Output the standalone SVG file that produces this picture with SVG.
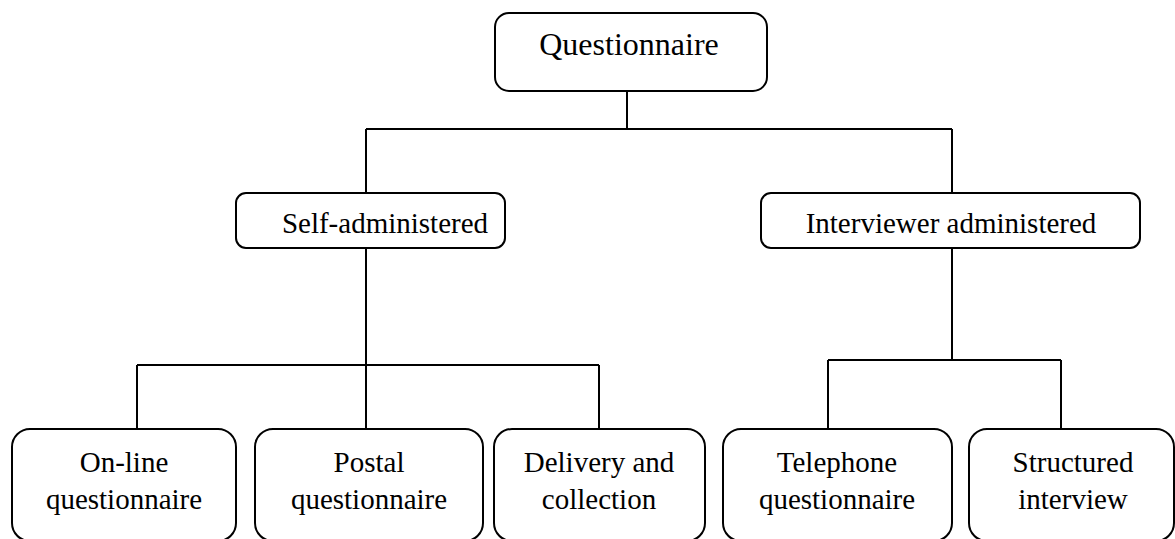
<svg xmlns="http://www.w3.org/2000/svg" width="1175" height="539" viewBox="0 0 1175 539">
  <style>
    .box { fill: #ffffff; stroke: #000000; stroke-width: 2; }
    .wire { fill: none; stroke: #000000; stroke-width: 2; }
    .lbl { font-family: "Liberation Serif", "Times New Roman", serif; font-size: 29px; fill: #000000; text-anchor: middle; }
    .big { font-size: 32px; }
  </style>
  <rect width="1175" height="539" fill="#ffffff"/>

  <!-- tree connectors -->
  <g id="connectors">
    <path class="wire" d="M627,91 V129 M366,129 H952 M366,129 V193 M952,129 V193"/>
    <path class="wire" d="M366,248 V429 M137,365 H599 M137,365 V429 M599,365 V429"/>
    <path class="wire" d="M952,248 V360 M828,360 H1061 M828,360 V429 M1061,360 V429"/>
  </g>

  <g id="questionnaire">
    <rect class="box" x="495" y="13" width="272" height="78" rx="14"/>
    <text class="lbl big" x="629" y="55">Questionnaire</text>
  </g>

  <g id="self-administered">
    <rect class="box" x="236" y="193" width="269" height="55" rx="10"/>
    <text class="lbl" x="385" y="233">Self-administered</text>
  </g>

  <g id="interviewer-administered">
    <rect class="box" x="761" y="193" width="379" height="55" rx="10"/>
    <text class="lbl" x="951" y="233">Interviewer administered</text>
  </g>

  <g id="online-questionnaire">
    <rect class="box" x="12" y="429" width="224" height="112" rx="18"/>
    <text class="lbl" x="124" y="472">On-line</text>
    <text class="lbl" x="124" y="509">questionnaire</text>
  </g>

  <g id="postal-questionnaire">
    <rect class="box" x="255" y="429" width="228" height="112" rx="18"/>
    <text class="lbl" x="369" y="472">Postal</text>
    <text class="lbl" x="369" y="509">questionnaire</text>
  </g>

  <g id="delivery-collection">
    <rect class="box" x="494" y="429" width="211" height="112" rx="18"/>
    <text class="lbl" x="599" y="472">Delivery and</text>
    <text class="lbl" x="599" y="509">collection</text>
  </g>

  <g id="telephone-questionnaire">
    <rect class="box" x="723" y="429" width="229" height="112" rx="18"/>
    <text class="lbl" x="837" y="472">Telephone</text>
    <text class="lbl" x="837" y="509">questionnaire</text>
  </g>

  <g id="structured-interview">
    <rect class="box" x="969" y="429" width="205" height="112" rx="18"/>
    <text class="lbl" x="1073" y="472">Structured</text>
    <text class="lbl" x="1073" y="509">interview</text>
  </g>
</svg>
